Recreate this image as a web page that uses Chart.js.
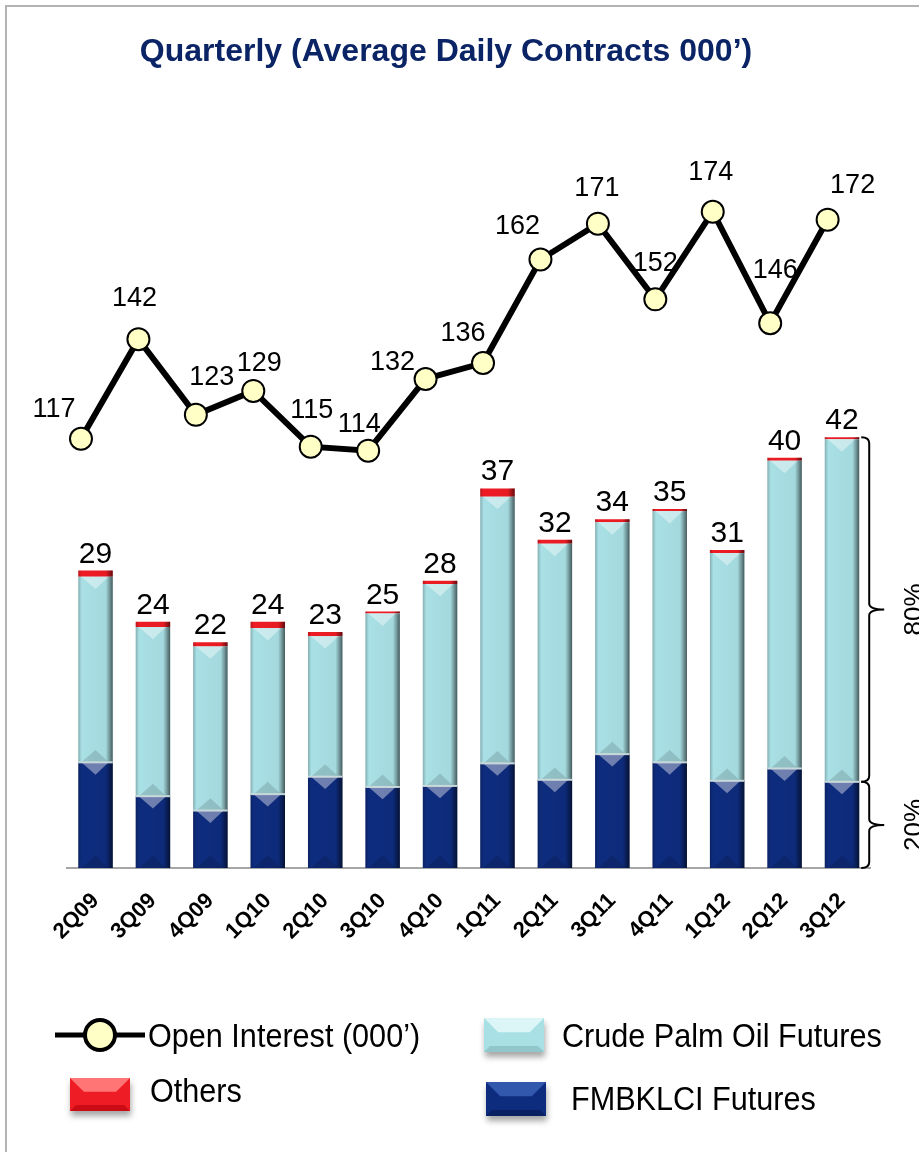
<!DOCTYPE html>
<html>
<head>
<meta charset="utf-8">
<script src="https://cdn.jsdelivr.net/npm/chart.js@4.4.1/dist/chart.umd.min.js"></script>
<style>
  html, body { margin: 0; padding: 0; background: #ffffff; overflow: hidden; }
  canvas { display: block; }
</style>
</head>
<body>
<canvas id="chart" width="919" height="1152"></canvas>
<script>
// Quarterly average daily contracts ('000) by product, plus open interest ('000)
const quarters = ['2Q09','3Q09','4Q09','1Q10','2Q10','3Q10','4Q10','1Q11','2Q11','3Q11','4Q11','1Q12','2Q12','3Q12'];
const fmbklciFutures      = [10.3, 7.0, 5.6, 7.2, 8.9, 7.9, 8.0, 10.2, 8.6, 11.1, 10.3, 8.5, 9.7, 8.4];
const crudePalmOilFutures = [18.1, 16.5, 16.0, 16.2, 13.7, 16.9, 19.7, 26.0, 23.0, 22.6, 24.5, 22.2, 30.0, 33.4];
const otherContracts      = [0.6, 0.5, 0.4, 0.6, 0.4, 0.2, 0.3, 0.8, 0.4, 0.3, 0.2, 0.3, 0.3, 0.2];
const openInterest        = [117, 142, 123, 129, 115, 114, 132, 136, 162, 171, 152, 174, 146, 172];

// Hand-placed nudges for the open-interest value labels (px from each point)
const oiLabelNudge = [[-27,-31],[-4,-43],[16,-39],[6,-30],[1,-38],[-9,-28],[-33,-19],
                      [-20,-32],[-23,-35],[-1,-37],[0,-38],[-2,-41],[5,-55],[25,-36]];

const FONT = "'Liberation Sans', Arial, Helvetica, sans-serif";
const COLORS = {
  fmb:   { base: '#0e2c7e', light: '#3158ad', dark: '#06184c' },
  cpo:   { base: '#a9e0e5', light: '#dcf6f8', dark: '#7eb2b7' },
  other: { base: '#ee1c24', light: '#ff7474', dark: '#b00008' },
  title: '#0b2465'
};

function barBox(el) {
  const p = el.getProps(['x', 'y', 'base', 'width'], true);
  const t = Math.min(p.y, p.base), b = Math.max(p.y, p.base);
  return { l: p.x - p.width / 2, r: p.x + p.width / 2, t, b, x: p.x, w: p.width };
}

// Bevelled, shaded look for each stacked segment
const bevelPlugin = {
  id: 'bevel',
  afterDatasetDraw(chart, args) {
    const meta = args.meta;
    if (meta.type !== 'bar') return;
    const ctx = chart.ctx;
    meta.data.forEach(el => {
      const b = barBox(el);
      const h = b.b - b.t;
      if (h < 0.5) return;
      ctx.save();
      const g = ctx.createLinearGradient(b.l, 0, b.r, 0);
      g.addColorStop(0, 'rgba(0,0,0,0.22)');
      g.addColorStop(0.1, 'rgba(0,0,0,0)');
      g.addColorStop(0.80, 'rgba(0,0,0,0.03)');
      g.addColorStop(0.90, 'rgba(0,0,0,0.30)');
      g.addColorStop(1, 'rgba(0,0,0,0.6)');
      ctx.fillStyle = g;
      ctx.fillRect(b.l, b.t, b.w, h);
      if (h > 14) {
        const d = Math.min(b.w * 0.36, h * 0.3);
        ctx.fillStyle = 'rgba(255,255,255,0.40)';
        ctx.beginPath();
        ctx.moveTo(b.l + 3, b.t); ctx.lineTo(b.r - 4, b.t); ctx.lineTo(b.x, b.t + d);
        ctx.closePath(); ctx.fill();
        ctx.fillStyle = 'rgba(0,0,0,0.13)';
        ctx.beginPath();
        ctx.moveTo(b.l + 3, b.b); ctx.lineTo(b.r - 4, b.b); ctx.lineTo(b.x, b.b - d);
        ctx.closePath(); ctx.fill();
      }
      if (args.index === 0) {
        ctx.fillStyle = 'rgba(205,220,220,0.95)';
        ctx.fillRect(b.l, b.t - 1, b.w, 2);
      }
      ctx.restore();
    });
  }
};

// Totals above the bars, open-interest values, bracket and legend
const annotatePlugin = {
  id: 'annotate',
  afterDatasetsDraw(chart) {
    const ctx = chart.ctx;
    const topMeta = chart.getDatasetMeta(2);
    ctx.save();
    ctx.fillStyle = '#000';
    ctx.textAlign = 'center';
    ctx.textBaseline = 'alphabetic';
    ctx.font = '30px ' + FONT;
    quarters.forEach((q, i) => {
      const total = fmbklciFutures[i] + crudePalmOilFutures[i] + otherContracts[i];
      const b = barBox(topMeta.data[i]);
      ctx.fillText(String(Math.round(total)), b.x, b.t - 8);
    });
    const lineMeta = chart.getDatasetMeta(3);
    ctx.font = '27px ' + FONT;
    lineMeta.data.forEach((pt, i) => {
      const p = pt.getProps(['x', 'y'], true);
      const [dx, dy] = oiLabelNudge[i];
      ctx.fillText(String(openInterest[i]), p.x + dx, p.y + dy + 9.6);
    });
    ctx.restore();
  },
  afterDraw(chart) {
    const ctx = chart.ctx;
    ctx.save();

    // frame
    ctx.strokeStyle = '#b3b3b3';
    ctx.lineWidth = 2;
    ctx.beginPath();
    ctx.moveTo(6, 1152); ctx.lineTo(6, 6); ctx.lineTo(919, 6);
    ctx.stroke();

    // title
    ctx.fillStyle = COLORS.title;
    ctx.font = 'bold 32px ' + FONT;
    ctx.textAlign = 'center';
    ctx.textBaseline = 'alphabetic';
    ctx.fillText('Quarterly (Average Daily Contracts 000\u2019)', 446, 61);

    // bracket on the latest quarter: share of CPO+others vs FMBKLCI
    const last = quarters.length - 1;
    const fmbBox = barBox(chart.getDatasetMeta(0).data[last]);
    const topBox = barBox(chart.getDatasetMeta(2).data[last]);
    const total = fmbklciFutures[last] + crudePalmOilFutures[last] + otherContracts[last];
    const fmbShare = Math.round(fmbklciFutures[last] / total * 100);
    const spineX = topBox.r + 10;
    function brace(y1, y2) {
      const m = (y1 + y2) / 2, c = 6;
      ctx.beginPath();
      ctx.moveTo(spineX - 8, y1);
      ctx.quadraticCurveTo(spineX, y1, spineX, y1 + c);
      ctx.lineTo(spineX, m - c);
      ctx.quadraticCurveTo(spineX, m, spineX + 15, m);
      ctx.quadraticCurveTo(spineX, m, spineX, m + c);
      ctx.lineTo(spineX, y2 - c);
      ctx.quadraticCurveTo(spineX, y2, spineX - 8, y2);
      ctx.stroke();
      return m;
    }
    ctx.strokeStyle = '#000';
    ctx.lineWidth = 2;
    const mTop = brace(topBox.t, fmbBox.t);
    const mBot = brace(fmbBox.t, fmbBox.b);
    ctx.fillStyle = '#000';
    ctx.font = '26px ' + FONT;
    ctx.textAlign = 'center';
    [[mTop, (100 - fmbShare) + '%'], [mBot, fmbShare + '%']].forEach(([m, txt]) => {
      ctx.save();
      ctx.translate(922, m);
      ctx.rotate(-Math.PI / 2);
      ctx.fillText(txt, 0, 0);
      ctx.restore();
    });

    // legend
    function swatch(x, y, w, h, c) {
      ctx.save();
      ctx.shadowColor = 'rgba(0,0,0,0.35)';
      ctx.shadowBlur = 6; ctx.shadowOffsetY = 5; ctx.shadowOffsetX = 1;
      ctx.fillStyle = c.base;
      ctx.fillRect(x, y, w, h);
      ctx.restore();
      const bv = h * 0.42;
      ctx.fillStyle = c.light;
      ctx.beginPath();
      ctx.moveTo(x, y); ctx.lineTo(x + w, y); ctx.lineTo(x + w - bv, y + bv); ctx.lineTo(x + bv, y + bv);
      ctx.closePath(); ctx.fill();
      ctx.fillStyle = c.dark;
      ctx.globalAlpha = 0.55;
      ctx.beginPath();
      ctx.moveTo(x, y + h); ctx.lineTo(x + w, y + h); ctx.lineTo(x + w - 6, y + h - 6); ctx.lineTo(x + 6, y + h - 6);
      ctx.closePath(); ctx.fill();
      ctx.globalAlpha = 1;
    }
    function legendText(txt, x, baseline) {
      ctx.save();
      ctx.translate(x, baseline);
      ctx.scale(0.9, 1);
      ctx.fillStyle = '#000';
      ctx.font = '34px ' + FONT;
      ctx.textAlign = 'left';
      ctx.fillText(txt, 0, 0);
      ctx.restore();
    }
    // open interest marker
    ctx.strokeStyle = '#000';
    ctx.lineWidth = 5;
    ctx.beginPath(); ctx.moveTo(55, 1035); ctx.lineTo(145, 1035); ctx.stroke();
    ctx.beginPath(); ctx.arc(100, 1035, 15, 0, Math.PI * 2);
    ctx.fillStyle = '#ffffc6'; ctx.fill();
    ctx.lineWidth = 4; ctx.stroke();
    legendText('Open Interest (000\u2019)', 148, 1047);

    swatch(70, 1078, 60, 33, COLORS.other);
    legendText('Others', 150, 1102);

    swatch(484, 1018, 60, 34, COLORS.cpo);
    legendText('Crude Palm Oil Futures', 562, 1047);

    swatch(486, 1082, 60, 34, COLORS.fmb);
    legendText('FMBKLCI Futures', 571, 1110);

    ctx.restore();
  }
};

const barStyle = { stack: 'adc', order: 1, grouped: false, barPercentage: 0.6, categoryPercentage: 1 };

new Chart(document.getElementById('chart'), {
  type: 'bar',
  data: {
    labels: quarters,
    datasets: [
      Object.assign({ label: 'FMBKLCI Futures', data: fmbklciFutures, backgroundColor: COLORS.fmb.base }, barStyle),
      Object.assign({ label: 'Crude Palm Oil Futures', data: crudePalmOilFutures, backgroundColor: COLORS.cpo.base }, barStyle),
      Object.assign({ label: 'Others', data: otherContracts, backgroundColor: COLORS.other.base }, barStyle),
      { type: 'line', label: 'Open Interest (000\u2019)',
        data: openInterest.map((v, i) => ({ x: i, y: v })),
        xAxisID: 'xl', yAxisID: 'yl', order: 0,
        borderColor: '#000', borderWidth: 6, tension: 0,
        pointRadius: 11, pointHoverRadius: 11, pointBorderWidth: 2,
        pointBackgroundColor: '#ffffc6', pointBorderColor: '#000' }
    ]
  },
  options: {
    responsive: false,
    animation: false,
    devicePixelRatio: 1,
    layout: { padding: { top: 150, left: 66.8, right: 48.3, bottom: 184 } },
    plugins: { legend: { display: false }, tooltip: { enabled: false }, title: { display: false } },
    scales: {
      x: {
        stacked: true,
        offset: true,
        grid: { display: false },
        border: { display: true, color: '#a6a6a6', width: 2 },
        ticks: {
          autoSkip: false, minRotation: 45, maxRotation: 45, padding: 12,
          color: '#000', font: { family: FONT, size: 22, weight: 'bold' }
        },
        afterFit(scale) { scale.height = 100; }
      },
      y: { stacked: true, display: false, min: 0, max: 70 },
      xl: { type: 'linear', display: false, offset: false, min: -0.247, max: 13.75 },
      yl: { type: 'linear', display: false, min: 9.2, max: 189.5 }
    }
  },
  plugins: [bevelPlugin, annotatePlugin]
});
</script>
</body>
</html>
